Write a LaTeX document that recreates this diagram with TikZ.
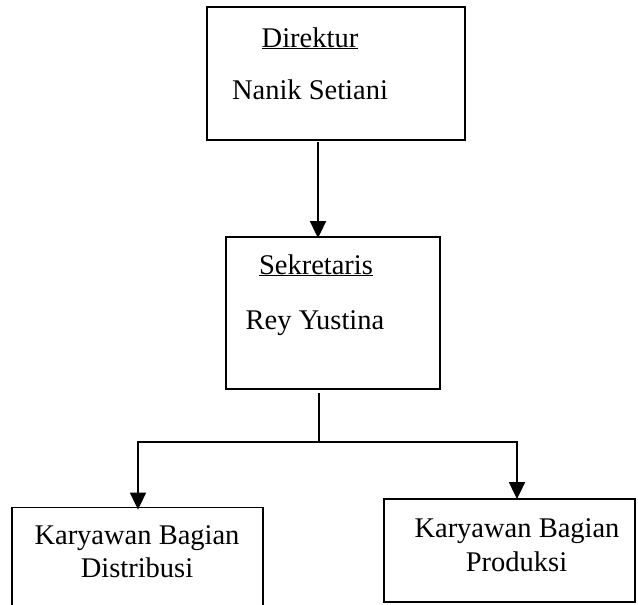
\documentclass[tikz,border=0pt]{standalone}
\usepackage{fontspec}
\setmainfont{Liberation Serif}
\usetikzlibrary{arrows.meta}
\begin{document}
\begin{tikzpicture}[x=1pt,y=-1pt,
  boxnode/.style={draw=black, line width=1.8pt, inner sep=0pt},
  lbl/.style={anchor=base, inner sep=0pt, font=\fontsize{28.5}{34}\selectfont},
  conn/.style={line width=1.8pt},
  arr/.style={line width=1.8pt, -{Triangle[width=16pt,length=17pt]}}]
\useasboundingbox (0,0) rectangle (638,605);
\begin{scope}
\clip (0,0) rectangle (638,605);
% boxes
\node[boxnode, minimum width=258pt, minimum height=133pt] (b1) at (336,73.5) {};
\node[boxnode, minimum width=214pt, minimum height=152pt] (b2) at (333,313) {};
\node[boxnode, minimum width=251pt, minimum height=115pt] (b3) at (137.5,565) {};
\node[boxnode, minimum width=251pt, minimum height=103pt] (b4) at (509.5,550.5) {};
% texts
\node[lbl] (t1a) at (310,47) {\underline{Direktur}};
\node[lbl] (t1b) at (310,99) {Nanik Setiani};
\node[lbl] (t2a) at (316,274) {\underline{Sekretaris}};
\node[lbl] (t2b) at (315,329) {Rey Yustina};
\node[lbl] (t3a) at (137,544) {Karyawan Bagian};
\node[lbl] (t3b) at (137,577) {Distribusi};
\node[lbl] (t4a) at (517,537) {Karyawan Bagian};
\node[lbl] (t4b) at (516.5,571) {Produksi};
% connectors
\coordinate (c1) at (318,142);
\draw[arr] (c1) -- ([yshift=-2pt]c1 |- b2.north);
\coordinate (c2) at (319,393);
\coordinate (c3) at (319,442);
\coordinate (cl) at (138,442);
\coordinate (cr) at (517,442);
\draw[conn] (c2) -- (c3);
\draw[conn] ([xshift=-0.9pt]cl) -- ([xshift=0.9pt]cr);
\draw[arr] ([yshift=-0.9pt]cl) -- ([yshift=-3pt]cl |- b3.north);
\draw[arr] ([yshift=-0.9pt]cr) -- ([yshift=-1pt]cr |- b4.north);
\end{scope}
\end{tikzpicture}
\end{document}
